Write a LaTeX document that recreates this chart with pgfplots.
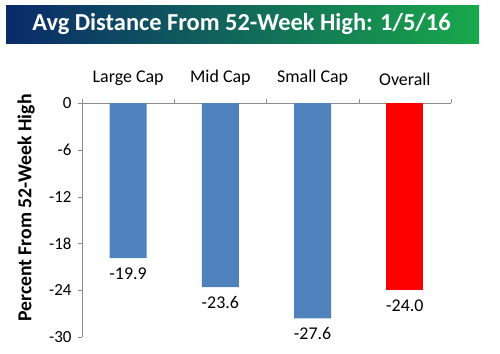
\documentclass[border=0pt]{standalone}
\usepackage{fontspec}
\setmainfont{Carlito}
\usepackage{pgfplots}
\pgfplotsset{compat=1.18}
\definecolor{barblue}{HTML}{4F81BD}
\definecolor{bannerL}{HTML}{0B2A6A}
\definecolor{bannerR}{HTML}{18A84A}
\definecolor{axgray}{HTML}{8C8C8C}
\begin{document}
\begin{tikzpicture}[x=1bp,y=1bp]
\path[use as bounding box] (0,0) rectangle (500,353);
\shade[left color=bannerL,right color=bannerR] (6,310) rectangle (479,347);
\node[text=white,font=\bfseries\fontsize{24.5}{28}\selectfont] at (241.5,328.5) {Avg Distance From 52-Week High: 1/5/16};
\node[rotate=90,font=\bfseries\fontsize{19.8}{22}\selectfont] at (26,145) {Percent From 52-Week High};
\begin{axis}[
  at={(82bp,16bp)}, anchor=south west,
  scale only axis, width=369bp, height=234bp,
  xmin=-0.5, xmax=3.5, ymin=-30, ymax=0,
  axis x line*=top, axis y line*=left,
  axis line style={axgray},
  /pgf/number format/assume math mode=true,
  ytick={0,-6,-12,-18,-24,-30},
  yticklabel style={font=\fontsize{17}{20}\selectfont, xshift=-3bp},
  ytick align=outside, xtick align=inside,
  major tick length=4bp,
  tick style={axgray},
  xtick={-0.5,0.5,1.5,2.5,3.5}, xticklabels={},
  extra x ticks={0,1,2,3},
  extra x tick labels={Large Cap,Mid Cap,Small Cap,Overall},
  extra x tick style={major tick length=0pt, xticklabel style={font=\fontsize{18}{21}\selectfont, yshift=14bp}},
  ybar, bar width=37bp,
  nodes near coords={\pgfmathprintnumber[fixed,fixed zerofill,precision=1]{\pgfplotspointmeta}},
  every node near coord/.append style={font=\fontsize{18}{21}\selectfont, anchor=north, yshift=-6bp, text=black},
  clip=false,
]
\addplot[fill=barblue, draw=none, bar shift=0pt] coordinates {(0,-19.9) (1,-23.6) (2,-27.6)};
\addplot[fill=red, draw=none, bar shift=0pt] coordinates {(3,-24.0)};
\end{axis}
\end{tikzpicture}
\end{document}
